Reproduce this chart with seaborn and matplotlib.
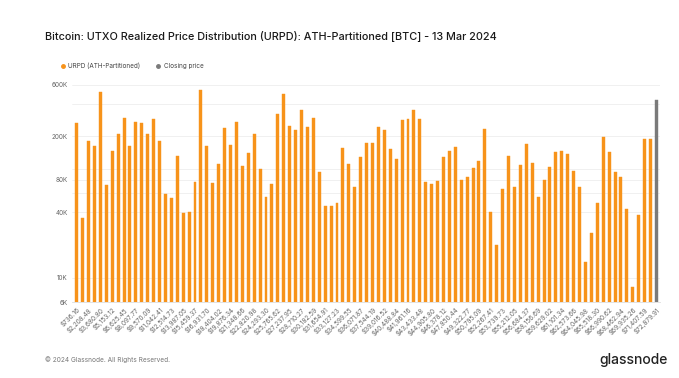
import numpy as np
import pandas as pd
import seaborn as sns
import matplotlib.pyplot as plt
from matplotlib.lines import Line2D

# URPD supply per price bucket (BTC)
urpd = [266e3, 35.5e3, 182e3, 164e3, 514e3, 72e3, 148e3, 209e3, 296e3, 162e3,
        270e3, 266e3, 209e3, 292e3, 180e3, 59e3, 54e3, 131e3, 39.7e3, 40e3,
        76e3, 540e3, 162e3, 75e3, 112e3, 237e3, 168e3, 272e3, 106e3, 140e3,
        209e3, 100e3, 55e3, 73e3, 324e3, 496e3, 250e3, 231e3, 350e3, 242e3,
        296e3, 94e3, 46e3, 46e3, 49e3, 157e3, 112e3, 68e3, 129e3, 174e3,
        176e3, 242e3, 231e3, 153e3, 123e3, 284e3, 290e3, 348e3, 290e3, 77e3,
        73e3, 78e3, 130e3, 147e3, 160e3, 79e3, 85e3, 102e3, 120e3, 236e3,
        40e3, 20e3, 66e3, 131e3, 68e3, 110e3, 169e3, 115e3, 55e3, 79e3,
        105e3, 145e3, 148e3, 138e3, 97e3, 68e3, 14e3, 26e3, 49e3, 199e3,
        144e3, 95e3, 84e3, 43e3, 8.3e3, 38e3, 190e3, 190e3]
closing_price = 430e3

tick_labels = ["$736.16", "$2,208.48", "$3,680.80", "$5,153.12", "$6,625.45",
               "$8,097.77", "$9,570.09", "$11,042.41", "$12,514.73", "$13,987.05",
               "$15,459.37", "$16,931.70", "$18,404.02", "$19,876.34", "$21,348.66",
               "$22,820.98", "$24,293.30", "$25,765.62", "$27,237.95", "$28,710.27",
               "$30,182.59", "$31,654.91", "$33,127.23", "$34,599.55", "$36,071.87",
               "$37,544.19", "$39,016.52", "$40,488.84", "$41,961.16", "$43,433.48",
               "$44,905.80", "$46,378.12", "$47,850.44", "$49,322.77", "$50,795.09",
               "$52,267.41", "$53,739.73", "$55,212.05", "$56,684.37", "$58,156.69",
               "$59,629.02", "$61,101.34", "$62,573.66", "$64,045.98", "$65,518.30",
               "$66,990.62", "$68,462.94", "$69,935.26", "$71,407.59", "$72,879.91"]

y_ticks = [6e3, 10e3, 40e3, 60e3, 80e3, 100e3, 200e3, 400e3, 600e3]
y_labels = ["6K", "10K", "40K", "", "80K", "", "200K", "", "600K"]

ORANGE = "#F7931A"
GREY = "#7a7a7a"

n = len(urpd) + 1
df = pd.DataFrame({
    "bin": np.arange(n),
    "value": urpd + [closing_price],
    "series": ["URPD (ATH-Partitioned)"] * len(urpd) + ["Closing price"],
})

sns.set_style("white")
plt.rcParams["font.family"] = ["Inter", "DejaVu Sans"]

fig = plt.figure(figsize=(6.79, 3.78), dpi=100)
ax = fig.add_axes([0.106, 0.201, 0.866, 0.587])

sns.barplot(data=df, x="bin", y="value", hue="series",
            palette={"URPD (ATH-Partitioned)": ORANGE, "Closing price": GREY},
            saturation=1, dodge=False, width=0.5, linewidth=0.3,
            legend=False, ax=ax, zorder=3)
for p in ax.patches:
    p.set_edgecolor(p.get_facecolor())

ax.set_yscale("log")
ax.set_ylim(6e3, 660e3)
ax.set_xlim(-0.8, n - 0.4)
ax.set_yticks(y_ticks)
ax.set_yticklabels(y_labels)
ax.minorticks_off()
ax.yaxis.grid(True, color="#eeeeee", linewidth=0.6, zorder=0)

ax.set_xticks(np.arange(0, n, 2))
ax.set_xticklabels(tick_labels, rotation=45, ha="right", rotation_mode="anchor")
ax.tick_params(axis="both", length=0, labelsize=4.6, colors="#666666", pad=3)
ax.set_xlabel("")
ax.set_ylabel("")
for side in ["top", "right", "left"]:
    ax.spines[side].set_visible(False)
ax.spines["bottom"].set_color("#dddddd")
ax.spines["bottom"].set_linewidth(0.6)

fig.text(0.066, 0.905, "Bitcoin: UTXO Realized Price Distribution (URPD): ATH-Partitioned [BTC] - 13 Mar 2024",
         fontsize=7.8, color="#1a1a1a", fontweight="medium", va="center")

handles = [Line2D([], [], marker="o", linestyle="", color=ORANGE, markersize=2.5),
           Line2D([], [], marker="o", linestyle="", color=GREY, markersize=2.5)]
fig.legend(handles, ["URPD (ATH-Partitioned)", "Closing price"], loc="center left",
           bbox_to_anchor=(0.08, 0.826), ncol=2, frameon=False, fontsize=4.6,
           labelcolor="#444444", handletextpad=0.4, columnspacing=2.5, handlelength=0.8)

fig.text(0.066, 0.048, "© 2024 Glassnode. All Rights Reserved.",
         fontsize=4.7, color="#777777", va="center")
fig.text(0.983, 0.048, "glassnode", fontsize=10, color="#222222",
         fontweight="medium", ha="right", va="center")

fig.savefig("out.png", dpi=100)
